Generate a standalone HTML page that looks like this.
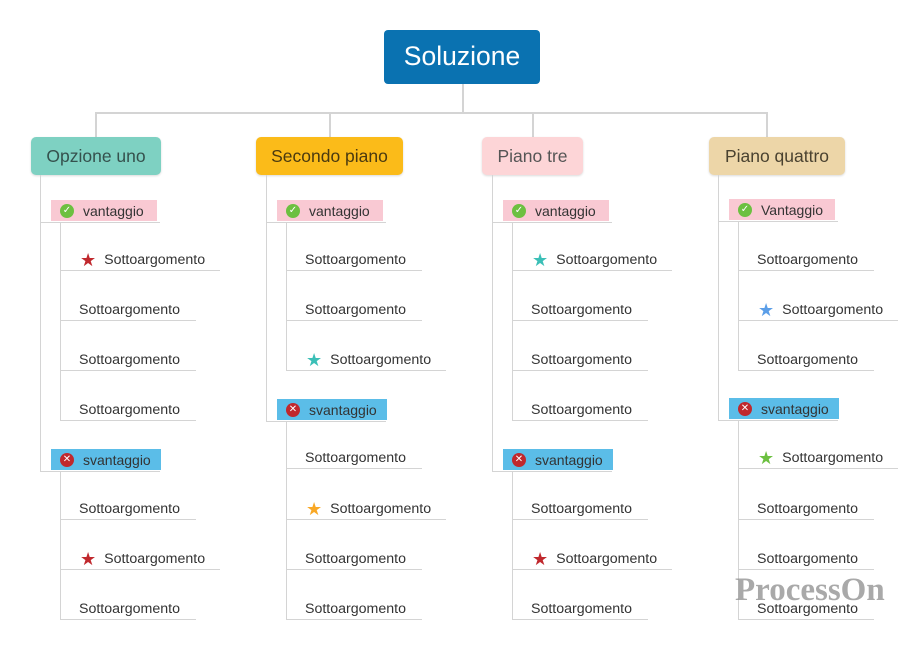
<!DOCTYPE html>
<html><head><meta charset="utf-8"><style>
body{margin:0;width:924px;height:651px;background:#fff;position:relative;overflow:hidden;font-family:"Liberation Sans","DejaVu Sans",sans-serif}
.a{position:absolute}
.h{position:absolute;height:1px;background:#d4d4d4}
.v{position:absolute;width:1px;background:#d4d4d4}
.main{position:absolute;height:38px;top:137px;border-radius:5px;font-size:17.5px;line-height:38px;text-align:center;box-shadow:0 1px 2px rgba(0,0,0,.15)}
.lab{position:absolute;height:21px;font-size:14px;color:#333;white-space:nowrap;display:flex;align-items:center}
.leaf{position:absolute;font-size:14.2px;color:#333;white-space:nowrap;line-height:16px;display:flex;align-items:center}
.ic{display:inline-block;width:14px;height:14px;border-radius:50%;color:#fff;font-size:10px;line-height:14px;text-align:center;margin:0 9px 0 9px}
.star{font-size:18px;margin-right:8px;line-height:16px}
</style></head><body>
<div class="a" style="left:384px;top:30px;width:156px;height:54px;background:#0a72b1;border-radius:4px;color:#fff;font-size:26.5px;line-height:52px;text-align:center">Soluzione</div>
<div class="v" style="left:462px;top:84px;height:28px;width:2px"></div>
<div class="h" style="left:95px;top:112px;width:672px;height:2px"></div>
<div class="v" style="left:95px;top:112px;height:25px;width:2px"></div>
<div class="v" style="left:329px;top:112px;height:25px;width:2px"></div>
<div class="v" style="left:532px;top:112px;height:25px;width:2px"></div>
<div class="v" style="left:766px;top:112px;height:25px;width:2px"></div>
<div class="main" style="left:31px;width:130px;background:#7ed1c2;color:#35514d">Opzione uno</div>
<div class="main" style="left:256px;width:147px;background:#fbbb19;color:#4a3a10">Secondo piano</div>
<div class="main" style="left:482px;width:101px;background:#fdd5d7;color:#555">Piano tre</div>
<div class="main" style="left:709px;width:136px;background:#edd6a8;color:#4a4230">Piano quattro</div>
<div id="root"></div>
<div class="a" style="left:735px;top:572px;font-family:'Liberation Serif',serif;font-weight:bold;font-size:33px;color:rgba(140,140,140,.75)">ProcessOn</div>
<script>
var S='Sottoargomento';
var cols=[
{x:40,g:[{t:'vantaggio',y:210,k:1,l:[[259,'#c0282d'],[309],[359],[409]]},{t:'svantaggio',y:459,k:0,l:[[508],[558,'#c0282d'],[608]]}]},
{x:266,g:[{t:'vantaggio',y:210,k:1,l:[[259],[309],[359,'#3bbfb7']]},{t:'svantaggio',y:409,k:0,l:[[457],[508,'#f9a825'],[558],[608]]}]},
{x:492,g:[{t:'vantaggio',y:210,k:1,l:[[259,'#3bbfb7'],[309],[359],[409]]},{t:'svantaggio',y:459,k:0,l:[[508],[558,'#c0282d'],[608]]}]},
{x:718,g:[{t:'Vantaggio',y:209,k:1,l:[[259],[309,'#5b9ee8'],[359]]},{t:'svantaggio',y:408,k:0,l:[[457,'#6cc040'],[508],[558],[608]]}]}
];
var h='';
cols.forEach(function(c){
 var x=c.x, last=c.g[c.g.length-1].y+12;
 h+='<div class="v" style="left:'+x+'px;top:175px;height:'+(last-175)+'px"></div>';
 c.g.forEach(function(g){
  var bg=g.k?'#f9c9d3':'#5bbde8';
  var icon=g.k?'<span class="ic" style="background:#6cc040">✓</span>':'<span class="ic" style="background:#c0282d">✕</span>';
  var w=g.k?106:110;
  h+='<div class="lab" style="left:'+(x+11)+'px;top:'+(g.y-10)+'px;width:'+w+'px;background:'+bg+'">'+icon+g.t+'</div>';
  h+='<div class="h" style="left:'+x+'px;top:'+(g.y+12)+'px;width:120px"></div>';
  var ll=g.l[g.l.length-1][0]+11;
  h+='<div class="v" style="left:'+(x+20)+'px;top:'+(g.y+12)+'px;height:'+(ll-g.y-12)+'px"></div>';
  g.l.forEach(function(l){
   var st=l[1];
   h+='<div class="leaf" style="left:'+(x+(st?40:39))+'px;top:'+(l[0]-7)+'px">'+(st?'<span class="star" style="color:'+st+'">★</span>':'')+S+'</div>';
   h+='<div class="h" style="left:'+(x+20)+'px;top:'+(l[0]+11)+'px;width:'+(st?160:136)+'px"></div>';
  });
 });
});
document.getElementById('root').innerHTML=h;
</script>
</body></html>
